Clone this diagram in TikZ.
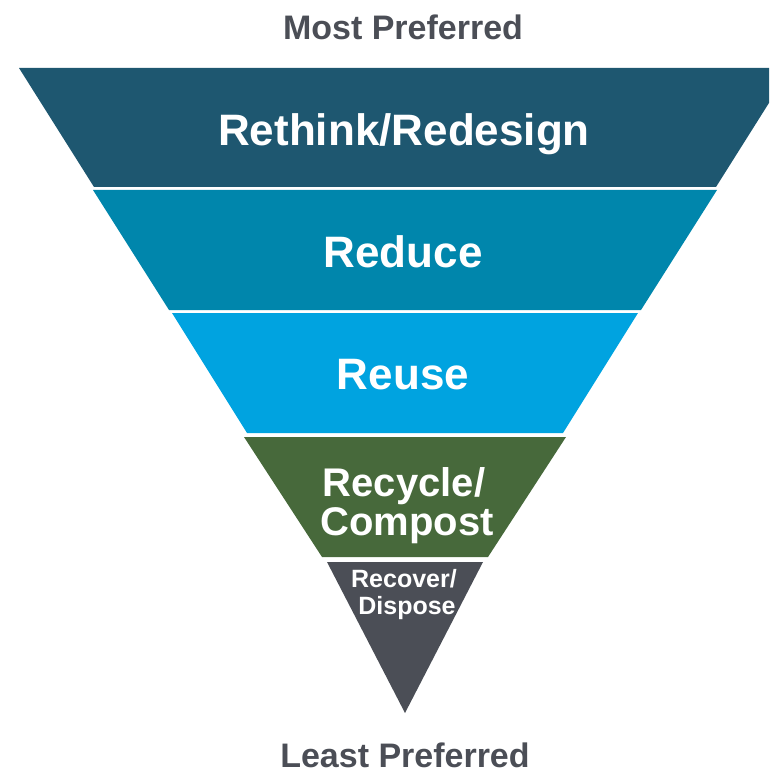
\documentclass[tikz,border=0pt]{standalone}
\usepackage{fontspec}
\setmainfont{Liberation Sans}
\definecolor{cband1}{HTML}{1E5770}
\definecolor{cband2}{HTML}{0086AC}
\definecolor{cband3}{HTML}{00A3E0}
\definecolor{cband4}{HTML}{47693B}
\definecolor{cband5}{HTML}{4B4E56}
\definecolor{cgraytext}{HTML}{4B4E56}
\begin{document}
\begin{tikzpicture}[x=1pt,y=-1pt,
  bandtext/.style={text=white,font=\bfseries,anchor=base,inner sep=0pt},
  endtext/.style={text=cgraytext,font=\bfseries\fontsize{34}{40}\selectfont,anchor=base,inner sep=0pt}]
\useasboundingbox (0,0) rectangle (769,775);
\clip (0,0) rectangle (769,775);
\fill[cband1] (19,68) -- (791,68) -- (716,187) -- (94,187) -- cycle;
\fill[cband2] (93,190) -- (717,190) -- (641,310) -- (169,310) -- cycle;
\fill[cband3] (172,313) -- (638,313) -- (563,433) -- (247,433) -- cycle;
\fill[cband4] (244,437) -- (566,437) -- (488,557) -- (322,557) -- cycle;
\fill[cband5] (327,562) -- (483,562) -- (405,713) -- cycle;
\node[endtext] (most) at (403,40) {Most Preferred};
\node[endtext] (least) at (405,767) {Least Preferred};
\node[bandtext,font=\bfseries\fontsize{44}{50}\selectfont] (rethink) at (404,146) {Rethink/Redesign};
\node[bandtext,font=\bfseries\fontsize{44}{50}\selectfont] (reduce) at (403,268) {Reduce};
\node[bandtext,font=\bfseries\fontsize{44}{50}\selectfont] (reuse) at (403,389) {Reuse};
\node[bandtext,font=\bfseries\fontsize{40}{46}\selectfont] (recycle) at (404,496) {Recycle/};
\node[bandtext,font=\bfseries\fontsize{40}{46}\selectfont] (compost) at (407,535) {Compost};
\node[bandtext,font=\bfseries\fontsize{25}{30}\selectfont] (recover) at (404,587) {Recover/};
\node[bandtext,font=\bfseries\fontsize{25}{30}\selectfont] (dispose) at (407,614) {Dispose};
\end{tikzpicture}
\end{document}
